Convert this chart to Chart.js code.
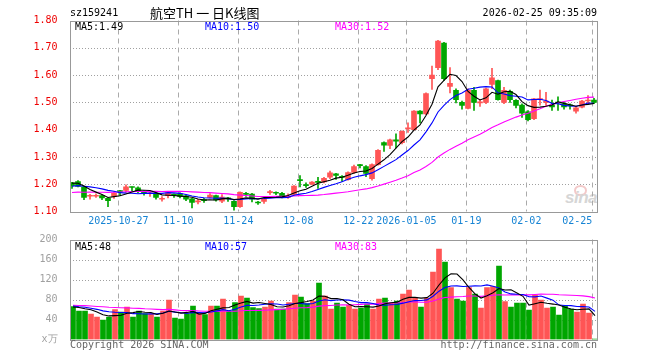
<!DOCTYPE html>
<html><head><meta charset="utf-8">
<script src="https://cdn.jsdelivr.net/npm/chart.js@4.4.1/dist/chart.umd.min.js"></script>
<style>
body{margin:0;background:#fff;width:660px;height:360px;overflow:hidden;position:relative;font-family:"DejaVu Sans Mono",monospace;font-size:10px}
.t{position:absolute;white-space:nowrap;line-height:10px}
.xl{position:absolute;white-space:nowrap;line-height:10px;top:215.5px;color:#1784d4}
canvas{position:absolute;left:0}
#wm{position:absolute;left:565px;top:188px;font:italic bold 17px "Liberation Sans",Arial,sans-serif;color:#d6d6d6;letter-spacing:-0.5px}
#eye{position:absolute;left:574px;top:185px;width:9px;height:7px;border:2px solid #f3c9c9;border-radius:50%}
</style></head><body>
<div id="eye"></div>
<div id="wm">sina</div>
<canvas id="k" width="660" height="235" style="top:0"></canvas>
<canvas id="v" width="660" height="135" style="top:225px"></canvas>
<div class="t" style="left:70px;top:8px">sz159241</div>
<div class="t" style="left:150px;top:6px;font:13px 'Noto Sans CJK SC';line-height:13px">航空TH 一 日K线图</div>
<div class="t" style="right:63px;top:8px">2026-02-25 09:35:09</div>
<div class="t" style="left:75px;top:21.5px;color:#000">MA5:1.49</div>
<div class="t" style="left:205px;top:21.5px;color:#00f">MA10:1.50</div>
<div class="t" style="left:335px;top:21.5px;color:#f0f">MA30:1.52</div>
<div class="t" style="left:75px;top:242px;color:#000">MA5:48</div>
<div class="t" style="left:205px;top:242px;color:#00f">MA10:57</div>
<div class="t" style="left:335px;top:242px;color:#f0f">MA30:83</div>
<div class="t" style="left:70px;top:340px;color:#666">Copyright 2026 SINA.COM</div>
<div class="t" style="right:63px;top:340px;color:#666">http://finance.sina.com.cn</div>
<script>
// ---- data ----
const dates = ['2025-10-27','11-10','11-24','12-08','12-22','2026-01-05','01-19','02-02','02-25'];
const dateIdx = [8,18,28,38,48,56,66,76,87];
const open  = [1.205,1.21,1.19,1.156,1.156,1.158,1.148,1.155,1.175,1.177,1.19,1.187,1.174,1.165,1.165,1.145,1.158,1.162,1.165,1.157,
               1.146,1.135,1.142,1.152,1.158,1.138,1.148,1.137,1.118,1.165,1.164,1.133,1.137,1.169,1.169,1.167,1.152,1.163,1.215,1.197,
               1.20,1.21,1.208,1.226,1.238,1.228,1.217,1.243,1.27,1.265,1.22,1.272,1.353,1.342,1.363,1.352,1.403,1.40,1.468,1.458,
               1.587,1.627,1.717,1.558,1.544,1.50,1.478,1.544,1.498,1.50,1.566,1.58,1.50,1.54,1.507,1.49,1.465,1.44,1.51,1.50,
               1.49,1.50,1.495,1.49,1.468,1.482,1.505,1.508];
const close = [1.195,1.192,1.152,1.158,1.158,1.15,1.14,1.167,1.173,1.19,1.188,1.174,1.165,1.167,1.152,1.147,1.168,1.16,1.155,1.145,
               1.133,1.137,1.14,1.16,1.142,1.153,1.146,1.118,1.17,1.163,1.145,1.131,1.146,1.171,1.167,1.153,1.155,1.193,1.213,1.195,
               1.208,1.207,1.222,1.242,1.232,1.225,1.243,1.265,1.268,1.24,1.272,1.324,1.343,1.363,1.358,1.394,1.407,1.468,1.458,1.532,
               1.60,1.725,1.587,1.57,1.51,1.489,1.544,1.50,1.50,1.55,1.59,1.51,1.544,1.51,1.489,1.46,1.437,1.513,1.513,1.505,
               1.483,1.497,1.483,1.487,1.48,1.505,1.508,1.50];
const high  = [1.207,1.213,1.192,1.163,1.165,1.16,1.15,1.172,1.178,1.198,1.19,1.19,1.176,1.17,1.168,1.155,1.17,1.165,1.168,1.16,
               1.148,1.145,1.148,1.166,1.16,1.162,1.152,1.14,1.172,1.17,1.167,1.137,1.148,1.178,1.172,1.17,1.165,1.195,1.232,1.205,
               1.21,1.225,1.225,1.248,1.24,1.232,1.245,1.27,1.273,1.268,1.275,1.327,1.355,1.365,1.385,1.396,1.425,1.47,1.47,1.535,
               1.633,1.727,1.72,1.627,1.55,1.505,1.55,1.555,1.51,1.552,1.625,1.582,1.555,1.545,1.51,1.495,1.47,1.515,1.545,1.537,
               1.508,1.52,1.50,1.495,1.485,1.507,1.525,1.515];
const low   = [1.185,1.19,1.143,1.145,1.152,1.143,1.118,1.148,1.158,1.17,1.173,1.168,1.16,1.155,1.145,1.138,1.15,1.152,1.15,1.14,
               1.113,1.128,1.133,1.15,1.138,1.132,1.137,1.105,1.115,1.155,1.135,1.126,1.13,1.163,1.162,1.15,1.148,1.16,1.19,1.188,
               1.198,1.185,1.205,1.22,1.218,1.21,1.215,1.24,1.26,1.228,1.215,1.27,1.32,1.33,1.333,1.348,1.39,1.398,1.425,1.455,
               1.547,1.62,1.58,1.535,1.498,1.475,1.476,1.47,1.485,1.495,1.55,1.508,1.495,1.50,1.48,1.445,1.432,1.437,1.49,1.488,
               1.47,1.47,1.475,1.475,1.46,1.48,1.495,1.495];
const volume = [66,57,57,50.6,44.6,38.6,45,60,54.6,64.6,44.6,56.6,52,52,45,56.6,78.6,43,40.6,52,
                66.6,52,50,66.6,66.6,80.6,56.6,74,87,82.6,64,62,64.6,77,60.6,60.6,74,88.6,84.6,72,
                76.6,113,86.6,60.6,72.6,64.6,69,60.6,62.6,70.6,60.6,80.6,82.6,72.6,77,90.6,98.6,82.6,64.6,82.6,
                134.6,180.6,154.6,104,80.6,77,104,90.6,62.6,104,106,146.6,75.6,64.6,72.6,72.6,59,89,79,62.6,
                64.6,49,68,60.6,54.6,70.6,52.6,1];
// earlier sessions (before the visible window), estimated so the moving averages start where the picture shows them
const prevCloses = [1.15,1.16,1.155,1.165,1.16,1.15,1.145,1.155,1.16,1.17,1.165,1.155,1.15,1.16,1.165,1.155,1.15,1.16,1.17,1.165,
                    1.17,1.175,1.18,1.19,1.19,1.195,1.20,1.225,1.205];
const prevVolumes = [72,65,80,68,60,75,70,66,78,62,70,74,64,68,72,66,70,75,63,70,
                     72,66,70,68,69,62,70,60,67];
const yTicksMain = [1.10,1.20,1.30,1.40,1.50,1.60,1.70,1.80];
const yTicksVol = [0,40,80,120,160,200];

// ---- helpers ----
const RED = '#ff5555', GREEN = '#00a600';
function movAvg(prev, cur, n) {
  const all = prev.concat(cur), off = prev.length, out = [];
  for (let i = 0; i < cur.length; i++) {
    let s = 0; for (let k = 0; k < n; k++) s += all[off + i - k];
    out.push({x: i, y: s / n});
  }
  return out;
}
const col = close.map((c, i) => c >= open[i] ? RED : GREEN);
const MONO = {family: 'DejaVu Sans Mono', size: 10};

function gridFrame(shift, yTicks) {
  return {
    id: 'gridFrame',
    beforeDatasetsDraw(chart) {
      const a = chart.chartArea, ctx = chart.ctx, sx = chart.scales.x, sy = chart.scales.y;
      ctx.save(); ctx.lineWidth = 1;
      ctx.strokeStyle = '#a0a0a0'; ctx.setLineDash([1, 2]);
      yTicks.slice(1, -1).forEach(v => {
        const py = Math.round(sy.getPixelForValue(v)) + 0.5;
        ctx.beginPath(); ctx.moveTo(a.left, py); ctx.lineTo(a.right, py); ctx.stroke();
      });
      ctx.strokeStyle = '#aaaaaa'; ctx.setLineDash([5, 4]);
      dateIdx.forEach(i => {
        const px = Math.round(sx.getPixelForValue(i - shift)) + 0.5;
        ctx.beginPath(); ctx.moveTo(px, a.top); ctx.lineTo(px, a.bottom); ctx.stroke();
      });
      ctx.restore();
    },
    afterDraw(chart) {
      const a = chart.chartArea, ctx = chart.ctx;
      ctx.save(); ctx.strokeStyle = '#999'; ctx.lineWidth = 1;
      ctx.strokeRect(Math.round(a.left) + 0.5, Math.round(a.top) + 0.5, Math.round(a.right - a.left) - 1, Math.round(a.bottom - a.top));
      ctx.restore();
    }
  };
}
function yAxis(min, max, ticks, color, fmt) {
  return {
    min, max,
    afterFit: s => { s.width = 70; },
    afterBuildTicks: s => { s.ticks = ticks.map(v => ({value: v})); },
    border: {display: false},
    grid: {display: false},
    ticks: {color, font: MONO, padding: 4.5, callback: fmt}
  };
}
function xAxis(min, max) {
  return {type: 'linear', min, max, offset: false, display: false};
}
function maSets(prev, cur) {
  return [
    {type: 'line', data: movAvg(prev, cur, 5), borderColor: '#000', borderWidth: 1.1, pointRadius: 0, order: 1},
    {type: 'line', data: movAvg(prev, cur, 10), borderColor: '#0000ff', borderWidth: 1.1, pointRadius: 0, order: 1},
    {type: 'line', data: movAvg(prev, cur, 30), borderColor: '#ff00ff', borderWidth: 1.1, pointRadius: 0, order: 1}
  ];
}
const common = {responsive: false, animation: false, devicePixelRatio: 1,
  plugins: {legend: {display: false}, tooltip: {enabled: false}}};

// ---- price chart ----
const kShift = 0.28;
const kChart = new Chart(document.getElementById('k'), {
  type: 'bar',
  data: {
    datasets: maSets(prevCloses, close).concat([
      {data: close.map((c, i) => ({x: i, y: [open[i], c]})), backgroundColor: col, borderWidth: 0, barThickness: 5, minBarLength: 1, grouped: false, order: 2},
      {data: close.map((c, i) => ({x: i, y: [low[i], high[i]]})), backgroundColor: col, borderWidth: 0, barThickness: 1, minBarLength: 1, grouped: false, order: 3}
    ])
  },
  options: Object.assign({}, common, {
    layout: {padding: {left: 0, right: 62, top: 20.5, bottom: 23.5}},
    scales: {
      x: xAxis(-1/3, 88 - 1/3),
      y: yAxis(1.10, 1.80, yTicksMain, '#ee0000', v => v.toFixed(2))
    }
  }),
  plugins: [gridFrame(kShift, yTicksMain)]
});

// ---- volume chart ----
const vShift = 0.45;
new Chart(document.getElementById('v'), {
  type: 'bar',
  data: {
    datasets: maSets(prevVolumes, volume).concat([
      {data: volume.map((v, i) => ({x: i, y: v})), backgroundColor: col, borderWidth: 0, barThickness: 5, grouped: false, order: 2}
    ])
  },
  options: Object.assign({}, common, {
    layout: {padding: {left: 0, right: 62, top: 14.5, bottom: 20.5}},
    scales: {
      x: xAxis(-0.5, 87.5),
      y: yAxis(0, 200, yTicksVol, '#a0a0a0', v => v === 0 ? 'x万' : String(v))
    }
  }),
  plugins: [gridFrame(vShift, yTicksVol)]
});

// ---- date labels under the price chart, placed by the chart's x scale ----
dates.forEach((d, k) => {
  const px = kChart.scales.x.getPixelForValue(dateIdx[k] - kShift);
  const el = document.createElement('div');
  el.className = 'xl';
  el.textContent = d;
  document.body.appendChild(el);
  if (k === dates.length - 1) {
    el.style.right = (660 - px) + 'px';
  } else {
    el.style.left = (px - el.offsetWidth / 2) + 'px';
  }
});
</script>
</body></html>
